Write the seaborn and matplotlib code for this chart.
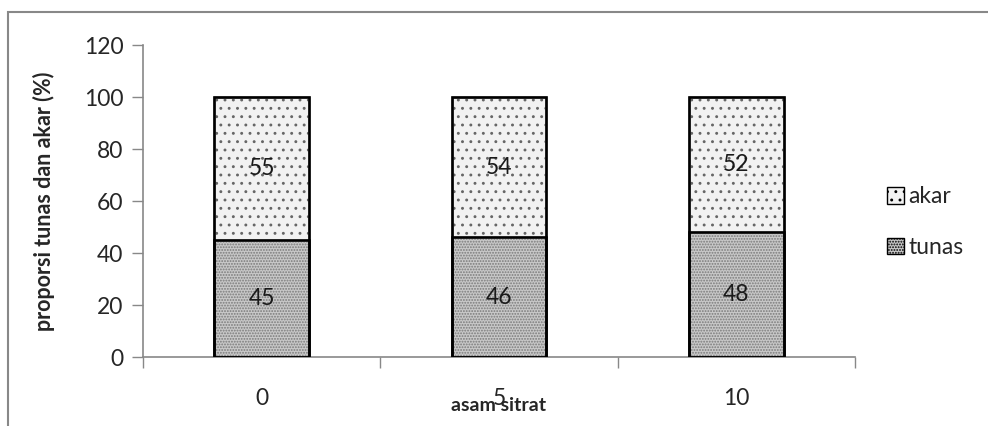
import matplotlib
matplotlib.use("Agg")
import matplotlib.pyplot as plt
import seaborn as sns
import pandas as pd
from matplotlib.patches import Rectangle, Patch

categories = ["0", "5", "10"]
tunas = [45, 46, 48]
akar = [55, 54, 52]
series_names = ["akar", "tunas"]
y_ticks = [0, 20, 40, 60, 80, 100, 120]

sns.set_theme(style="white")
plt.rcParams['font.family'] = ['Lato', 'DejaVu Sans']
plt.rcParams['hatch.linewidth'] = 0.9

df = pd.DataFrame({"kategori": categories, "tunas": tunas, "akar": akar})
df["total"] = df["tunas"] + df["akar"]

fig = plt.figure(figsize=(9.88, 4.26), dpi=100)
ax = fig.add_axes([143/988, 1-357/426, (855-143)/988, (357-45)/426])

akar_face = "#f2f2f2"
tunas_face = "#c8c8c8"
fs = 16.5

sns.barplot(data=df, x="kategori", y="total", color=akar_face, width=0.4,
            edgecolor="black", linewidth=1.8, ax=ax, saturation=1)
n = len(ax.patches)
sns.barplot(data=df, x="kategori", y="tunas", color=tunas_face, width=0.4,
            edgecolor="black", linewidth=1.8, ax=ax, saturation=1)
for i, p in enumerate(ax.patches):
    if i < n:
        p.set_hatch("..")
        p.set_edgecolor("#666666")
    else:
        p.set_hatch("......")
        p.set_edgecolor("#7a7a7a")
for i, p in enumerate(list(ax.patches)):
    x, w, h = p.get_x(), p.get_width(), p.get_height()
    ax.add_patch(Rectangle((x, p.get_y()), w, h, fill=False, edgecolor="black", linewidth=1.8, zorder=3))

for i in range(len(categories)):
    ax.text(i, tunas[i] / 2, str(tunas[i]), ha="center", va="center", fontsize=fs, color="#1a1a1a", zorder=4)
    ax.text(i, tunas[i] + akar[i] / 2, str(akar[i]), ha="center", va="center", fontsize=fs, color="#1a1a1a", zorder=4)

ax.set_xlim(-0.5, 2.5)
ax.set_ylim(0, 120)
ax.set_yticks(y_ticks)
ax.set_yticklabels([str(t) for t in y_ticks], fontsize=fs)
ax.tick_params(axis="y", length=8, width=1, color="#888888", direction="out", pad=6, left=True)
ax.set_xticks(range(len(categories)))
ax.set_xticklabels(categories, fontsize=fs)
ax.set_xticks([-0.5, 0.5, 1.5, 2.5], minor=True)
ax.tick_params(axis="x", which="major", length=0, pad=22)
ax.tick_params(axis="x", which="minor", length=8, width=1, color="#888888", direction="out", bottom=True)

for s in ["top", "right"]:
    ax.spines[s].set_visible(False)
for s in ["left", "bottom"]:
    ax.spines[s].set_color("#888888")
    ax.spines[s].set_linewidth(1.2)

ax.set_xlabel("asam sitrat", fontsize=14, fontweight="bold")
ax.xaxis.set_label_coords(0.5, -0.128)
ax.set_ylabel("proporsi tunas dan akar (%)", fontsize=15.5, fontweight="bold")
ax.yaxis.set_label_coords(-0.124, 0.5)

handles = [Patch(facecolor=akar_face, edgecolor="black", hatch="..", label=series_names[0]),
           Patch(facecolor=tunas_face, edgecolor="black", hatch="......", label=series_names[1])]
leg = fig.legend(handles=handles, loc="center left", bbox_to_anchor=(866/988, 1-222/426),
                 frameon=False, fontsize=fs, handlelength=0.75, handleheight=0.75,
                 handletextpad=0.2, labelspacing=1.3)

fig.patches.append(Rectangle((8/988, -0.2), 1.2, 1.2 - 12/426, transform=fig.transFigure,
                             fill=False, edgecolor="#888888", linewidth=1.5))

fig.savefig("out.png", dpi=100)
